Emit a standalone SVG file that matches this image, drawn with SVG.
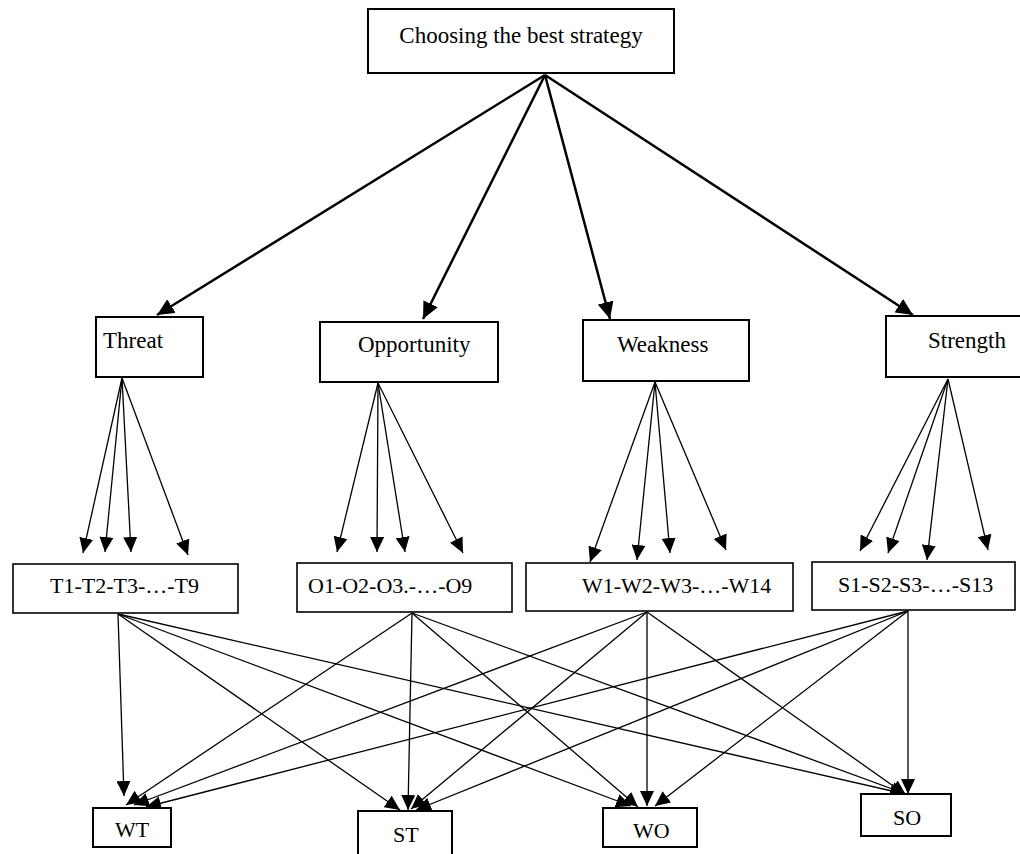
<svg xmlns="http://www.w3.org/2000/svg" width="1020" height="854" viewBox="0 0 1020 854">
<style>
.box{fill:#fff;stroke:#000;stroke-width:2}
.box3{fill:#fff;stroke:#000;stroke-width:1.6}
.t{font-family:"Liberation Serif","Times New Roman",serif;font-size:23px;fill:#000}
.t3{font-family:"Liberation Serif","Times New Roman",serif;font-size:22px;fill:#000}
.big{fill:none;stroke:#000;stroke-width:2.5}
.thin{fill:none;stroke:#000;stroke-width:1.3}
</style>
<defs>
<marker id="hb" markerUnits="userSpaceOnUse" markerWidth="18" markerHeight="16" refX="17" refY="8" orient="auto"><path d="M0,0 L17,8 L0,16 Z" fill="#000"/></marker>
<marker id="hs" markerUnits="userSpaceOnUse" markerWidth="16" markerHeight="14" refX="15" refY="7" orient="auto"><path d="M0,0 L15,7 L0,14 Z" fill="#000"/></marker>
</defs>
<g id="connectors">
<line class="big" x1="545" y1="75" x2="157" y2="315" marker-end="url(#hb)"/>
<line class="big" x1="545" y1="75" x2="423" y2="319" marker-end="url(#hb)"/>
<line class="big" x1="545" y1="75" x2="610" y2="319" marker-end="url(#hb)"/>
<line class="big" x1="545" y1="75" x2="913" y2="315" marker-end="url(#hb)"/>
<line class="thin" x1="122" y1="378" x2="83" y2="553" marker-end="url(#hs)"/>
<line class="thin" x1="122" y1="378" x2="105" y2="552" marker-end="url(#hs)"/>
<line class="thin" x1="122" y1="378" x2="131" y2="552" marker-end="url(#hs)"/>
<line class="thin" x1="122" y1="378" x2="188" y2="555" marker-end="url(#hs)"/>
<line class="thin" x1="378" y1="383" x2="337" y2="552" marker-end="url(#hs)"/>
<line class="thin" x1="378" y1="383" x2="377" y2="552" marker-end="url(#hs)"/>
<line class="thin" x1="378" y1="383" x2="405" y2="552" marker-end="url(#hs)"/>
<line class="thin" x1="378" y1="383" x2="463" y2="553" marker-end="url(#hs)"/>
<line class="thin" x1="655" y1="382" x2="590" y2="562" marker-end="url(#hs)"/>
<line class="thin" x1="655" y1="382" x2="637" y2="560" marker-end="url(#hs)"/>
<line class="thin" x1="655" y1="382" x2="670" y2="553" marker-end="url(#hs)"/>
<line class="thin" x1="655" y1="382" x2="726" y2="550" marker-end="url(#hs)"/>
<line class="thin" x1="948" y1="379" x2="860" y2="551" marker-end="url(#hs)"/>
<line class="thin" x1="948" y1="379" x2="888" y2="553" marker-end="url(#hs)"/>
<line class="thin" x1="948" y1="379" x2="927" y2="560" marker-end="url(#hs)"/>
<line class="thin" x1="948" y1="379" x2="988" y2="550" marker-end="url(#hs)"/>
<line class="thin" x1="118" y1="614" x2="124" y2="796" marker-end="url(#hs)"/>
<line class="thin" x1="118" y1="614" x2="400" y2="810" marker-end="url(#hs)"/>
<line class="thin" x1="118" y1="614" x2="631" y2="806" marker-end="url(#hs)"/>
<line class="thin" x1="118" y1="614" x2="905" y2="794" marker-end="url(#hs)"/>
<line class="thin" x1="412" y1="613" x2="126" y2="805" marker-end="url(#hs)"/>
<line class="thin" x1="412" y1="613" x2="408" y2="810" marker-end="url(#hs)"/>
<line class="thin" x1="412" y1="613" x2="638" y2="807" marker-end="url(#hs)"/>
<line class="thin" x1="412" y1="613" x2="906" y2="794" marker-end="url(#hs)"/>
<line class="thin" x1="647" y1="612" x2="134" y2="805" marker-end="url(#hs)"/>
<line class="thin" x1="647" y1="612" x2="411" y2="809" marker-end="url(#hs)"/>
<line class="thin" x1="647" y1="612" x2="647" y2="806" marker-end="url(#hs)"/>
<line class="thin" x1="647" y1="612" x2="906" y2="795" marker-end="url(#hs)"/>
<line class="thin" x1="908" y1="611" x2="146" y2="807" marker-end="url(#hs)"/>
<line class="thin" x1="908" y1="611" x2="416" y2="810" marker-end="url(#hs)"/>
<line class="thin" x1="908" y1="611" x2="655" y2="806" marker-end="url(#hs)"/>
<line class="thin" x1="908" y1="611" x2="908" y2="794" marker-end="url(#hs)"/>
</g>
<g id="node-goal"><rect class="box" x="368" y="9" width="306" height="64"/><text class="t" x="521" y="43" text-anchor="middle">Choosing the best strategy</text></g>
<g id="node-threat"><rect class="box" x="96" y="317" width="107" height="60"/><text class="t" x="103" y="348">Threat</text></g>
<g id="node-opportunity"><rect class="box" x="320" y="322" width="178" height="60"/><text class="t" x="358" y="352">Opportunity</text></g>
<g id="node-weakness"><rect class="box" x="583" y="320" width="166" height="61"/><text class="t" x="617" y="352">Weakness</text></g>
<g id="node-strength"><rect class="box" x="886" y="316" width="140" height="61"/><text class="t" x="928" y="348">Strength</text></g>
<g id="node-t"><rect class="box3" x="13" y="564" width="225" height="49"/><text class="t3" x="50" y="593">T1-T2-T3-…-T9</text></g>
<g id="node-o"><rect class="box3" x="297" y="563" width="215" height="49"/><text class="t3" x="308" y="593">O1-O2-O3.-…-O9</text></g>
<g id="node-w"><rect class="box3" x="526" y="563" width="267" height="48"/><text class="t3" x="582" y="593">W1-W2-W3-…-W14</text></g>
<g id="node-s"><rect class="box3" x="812" y="562" width="203" height="48"/><text class="t3" x="838" y="592">S1-S2-S3-…-S13</text></g>
<g id="node-wt"><rect class="box" x="93" y="808" width="78" height="39"/><text class="t3" x="115" y="837">WT</text></g>
<g id="node-st"><rect class="box" x="358" y="811" width="94" height="50"/><text class="t3" x="393" y="842">ST</text></g>
<g id="node-wo"><rect class="box" x="603" y="808" width="94" height="39"/><text class="t3" x="633" y="838">WO</text></g>
<g id="node-so"><rect class="box" x="861" y="794" width="90" height="42"/><text class="t3" x="893" y="825">SO</text></g>
</svg>
